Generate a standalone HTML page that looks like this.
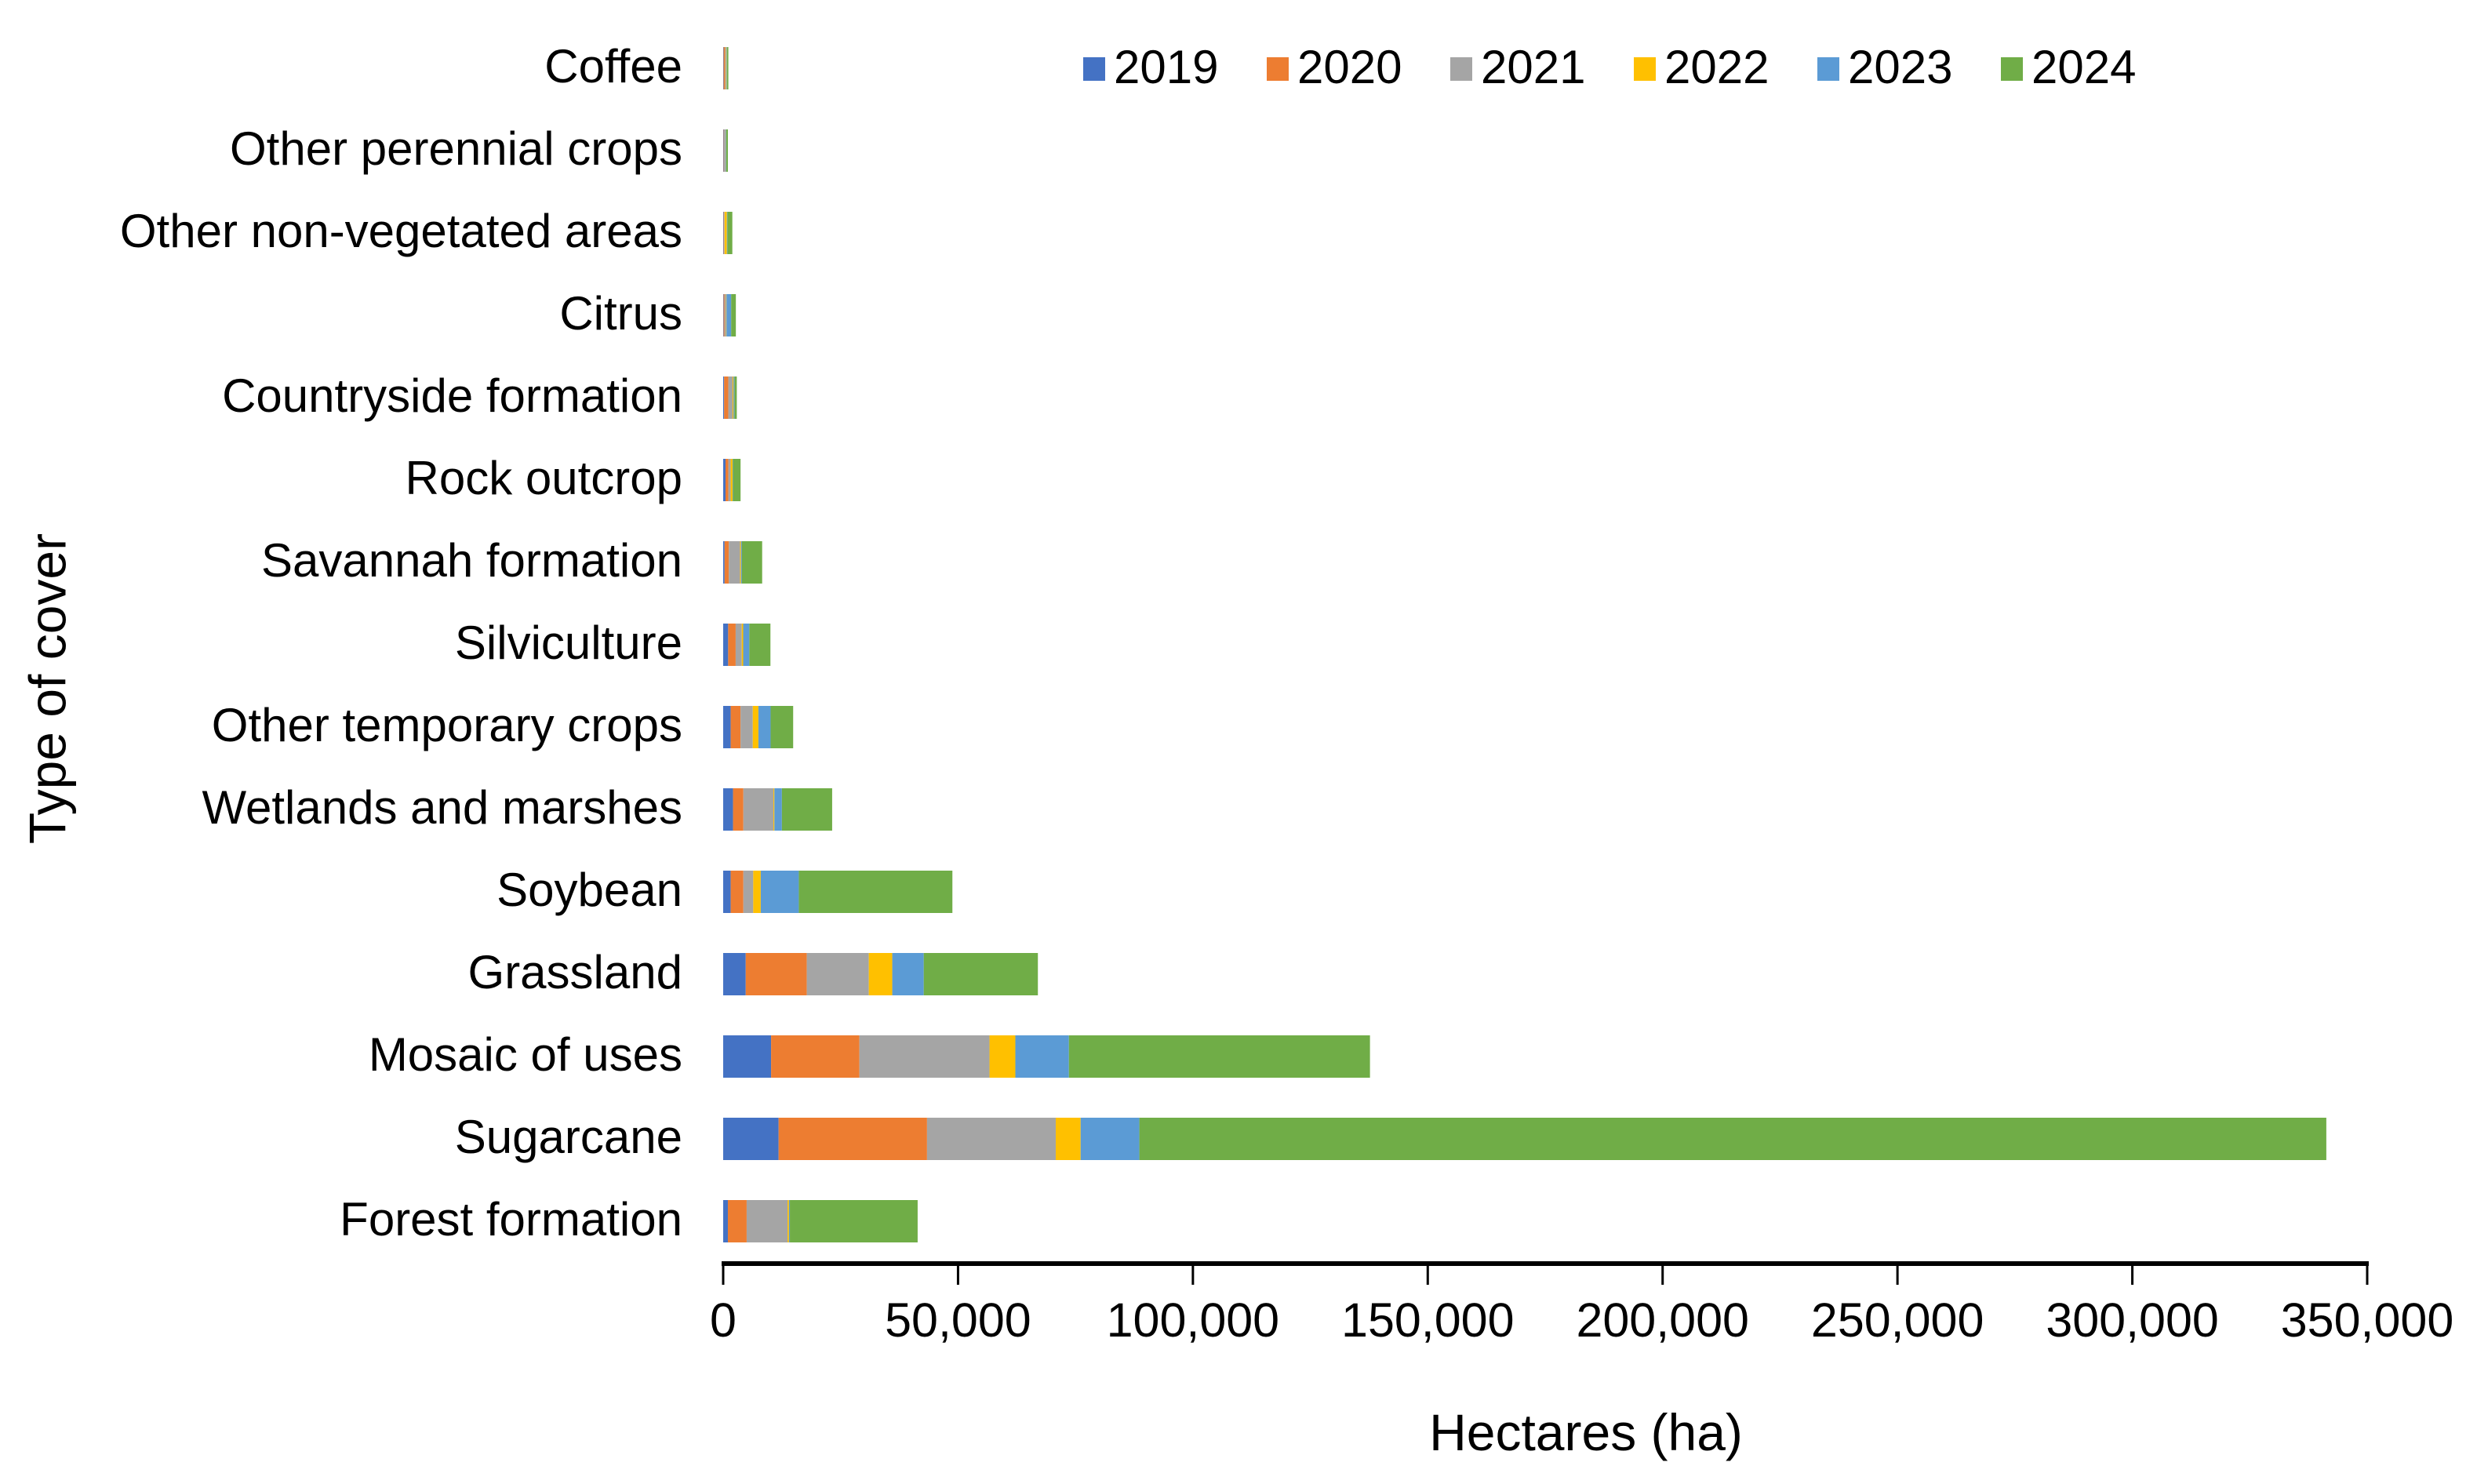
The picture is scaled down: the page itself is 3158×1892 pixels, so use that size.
<!DOCTYPE html>
<html><head><meta charset="utf-8"><style>
html,body{margin:0;padding:0;background:#fff}
svg{display:block}
text{font-family:"Liberation Sans",Arial,sans-serif;fill:#000}
</style></head><body>
<svg id="chart" width="3158" height="1892" viewBox="0 0 3158 1892" xmlns="http://www.w3.org/2000/svg">
<g id="bars"></g>
<g id="yaxis"></g>
<g id="xaxis"></g>
<g id="legend"></g>
<text x="66" y="878" font-size="66" text-anchor="middle" dominant-baseline="middle" transform="rotate(-90 66 878)">Type of cover</text>
<text x="2022" y="1849" font-size="66" text-anchor="middle">Hectares (ha)</text>
</svg>
<script>
const categories = ["Coffee","Other perennial crops","Other non-vegetated areas","Citrus","Countryside formation","Rock outcrop","Savannah formation","Silviculture","Other temporary crops","Wetlands and marshes","Soybean","Grassland","Mosaic of uses","Sugarcane","Forest formation"];
const years = ["2019","2020","2021","2022","2023","2024"];
const colors = ["#4472c4","#ed7d31","#a5a5a5","#ffc000","#5b9bd5","#70ad47"];
// values in thousands of hectares
const s2019 = [0.1,0.1,0.1,0.1,0.2,0.5,0.3,1.06,1.6,2.1,1.6,4.8,10.2,11.8,1.0];
const s2020 = [0.3,0.1,0.1,0.2,0.9,0.6,0.9,1.6,2.1,2.2,2.7,13.0,18.8,31.6,4.0];
const s2021 = [0.2,0.3,0.1,0.3,0.9,0.5,2.4,1.3,2.6,6.4,2.1,13.2,27.7,27.4,8.7];
const s2022 = [0.1,0.05,0.5,0.1,0.2,0.4,0.2,0.3,1.2,0.2,1.6,5.0,5.5,5.3,0.3];
const s2023 = [0.1,0.1,0.1,1.0,0.2,0.1,0.2,1.3,2.6,1.6,8.1,6.7,11.4,12.5,0.2];
const s2024 = [0.3,0.35,1.05,1.0,0.5,1.6,4.3,4.5,4.8,10.7,32.7,24.3,64.1,252.7,27.2];
const xTicks = [0,50000,100000,150000,200000,250000,300000,350000];
const xTickLabels = ["0","50,000","100,000","150,000","200,000","250,000","300,000","350,000"];

const NS="http://www.w3.org/2000/svg";
const X0=922, X1=3018, XMAX=350000;
const xs = v => X0 + v/XMAX*(X1-X0);
const yc = i => 87 + i*105;
const BH = 54;
function mk(tag, attrs, parent){const e=document.createElementNS(NS,tag);for(const k in attrs)e.setAttribute(k,attrs[k]);parent.appendChild(e);return e;}
const series=[s2019,s2020,s2021,s2022,s2023,s2024];
const gb=document.getElementById('bars');
categories.forEach((c,i)=>{
  let acc=0;
  series.forEach((s,k)=>{
    const v=s[i]*1000;
    const r=mk('rect',{x:xs(acc),y:yc(i)-BH/2,width:Math.max(0,xs(acc+v)-xs(acc)),height:BH,fill:colors[k]},gb);
    
    
    acc+=v;
  });
});
const gy=document.getElementById('yaxis');
categories.forEach((c,i)=>{
  const t=mk('text',{x:870,y:yc(i)+2,'font-size':60,'text-anchor':'end','dominant-baseline':'middle'},gy);
  t.textContent=c;
  
  
});
const gx=document.getElementById('xaxis');
const al=mk('line',{x1:X0-2,x2:X1+2,y1:1611,y2:1611,stroke:'#000','stroke-width':6},gx);


xTicks.forEach((v,i)=>{
  const tk=mk('line',{x1:xs(v),x2:xs(v),y1:1611,y2:1638,stroke:'#000','stroke-width':3},gx);
  
  
  const t=mk('text',{x:xs(v),y:1704,'font-size':61,'text-anchor':'middle'},gx);
  t.textContent=xTickLabels[i];
  
  
});
const gl=document.getElementById('legend');
years.forEach((y,k)=>{
  const lx=1381+k*234;
  const r=mk('rect',{x:lx,y:73,width:28,height:30,fill:colors[k]},gl);
  
  
  const t=mk('text',{x:lx+39,y:90,'font-size':60,'dominant-baseline':'middle'},gl);
  t.textContent=y;
  
  
});
</script>
</body></html>
